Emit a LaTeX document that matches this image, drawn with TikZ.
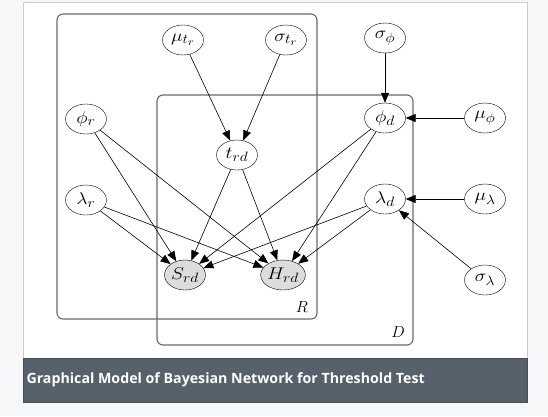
\RequirePackage{fix-cm}
\documentclass[tikz,border=0pt]{standalone}
\usepackage{fontspec}
\newfontfamily\capfont{Open Sans}
\usetikzlibrary{shapes.geometric,arrows.meta}
\DeclareMathSizes{17}{17}{13.5}{10.5}
\definecolor{pagebg}{HTML}{F5F7F9}
\definecolor{capbg}{HTML}{56616C}
\definecolor{platecol}{HTML}{6A6A6A}
\definecolor{obscol}{HTML}{DCDCDC}
\newcommand{\vlab}[1]{\scalebox{1.15}[1]{$#1$}}

\begin{document}
\begin{tikzpicture}[x=1pt,y=-1pt,
  var/.style={draw=black, ellipse, minimum width=41pt, minimum height=30pt, inner sep=0pt, font=\fontsize{17}{20}\selectfont},
  obs/.style={var, fill=obscol},
  plate/.style={draw=platecol, line width=1.1pt, rounded corners=6pt},
  edge/.style={-{Triangle[length=10pt,width=8pt]}, line width=0.6pt}]
\useasboundingbox (0,0) rectangle (548,416);
\fill[pagebg] (0,0) rectangle (548,416);
\filldraw [fill=white, draw=black!20] (23,2) rectangle (527,358);
\filldraw [fill=capbg, draw=black!70] (23,358) rectangle (527,402);
\node[anchor=west, text=white, font=\capfont\bfseries\fontsize{14.2}{17}\selectfont] (cap) at (23,380) {Graphical Model of Bayesian Network for Threshold Test};
% plates
\draw [plate] (57,14) rectangle (317,319);
\draw [plate] (157,95) rectangle (413,345);
\node[font=\fontsize{16}{19}\selectfont] (Rlab) at (302,307) {$R$};
\node[font=\fontsize{16}{19}\selectfont] (Dlab) at (398,332) {$D$};
% variables
\node[var] (mut) at (183,40) {\vlab{\mu_{t_r}}};
\node[var] (sigt) at (286,40) {\vlab{\sigma_{t_r}}};
\node[var] (sigphi) at (385,38) {\vlab{\sigma_\phi}};
\node[var] (phir) at (86,119) {\vlab{\phi_r}};
\node[var] (phid) at (385,118) {\vlab{\phi_d}};
\node[var] (muphi) at (485,118) {\vlab{\mu_\phi}};
\node[var] (trd) at (237,155) {\vlab{t_{rd}}};
\node[var] (lamr) at (86,200) {\vlab{\lambda_r}};
\node[var] (lamd) at (385,199) {\vlab{\lambda_d}};
\node[var] (mulam) at (485,199) {\vlab{\mu_\lambda}};
\node[var] (siglam) at (485,280) {\vlab{\sigma_\lambda}};
\node[obs] (Srd) at (185,275) {\vlab{S_{rd}}};
\node[obs] (Hrd) at (283,275) {\vlab{H_{rd}}};
% edges
\draw [edge] (mut) -- (trd);
\draw [edge] (sigt) -- (trd);
\draw [edge] (sigphi) -- (phid);
\draw [edge] (muphi) -- (phid);
\draw [edge] (mulam) -- (lamd);
\draw [edge] (siglam) -- (lamd);
\draw [edge] (phir) -- (Srd);
\draw [edge] (phir) -- (Hrd);
\draw [edge] (lamr) -- (Srd);
\draw [edge] (lamr) -- (Hrd);
\draw [edge] (trd) -- (Srd);
\draw [edge] (trd) -- (Hrd);
\draw [edge] (phid) -- (Srd);
\draw [edge] (phid) -- (Hrd);
\draw [edge] (lamd) -- (Srd);
\draw [edge] (lamd) -- (Hrd);
\end{tikzpicture}
\end{document}
